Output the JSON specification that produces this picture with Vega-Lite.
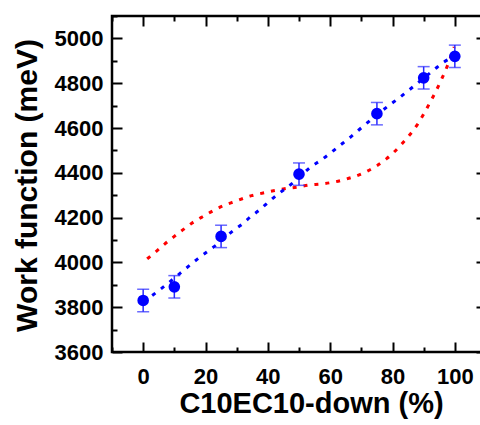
{
  "$schema": "https://vega.github.io/schema/vega-lite/v6.json",
  "autosize": {"type": "none"},
  "padding": {"left": 112, "top": 16, "right": 0, "bottom": 73},
  "width": 374,
  "height": 336,
  "background": "white",
  "config": {
    "view": {"stroke": "black", "strokeWidth": 2.5},
    "font": "Liberation Sans",
    "axis": {
      "grid": false,
      "domain": false,
      "tickColor": "black",
      "labelColor": "black",
      "titleColor": "black",
      "labelFont": "Liberation Sans",
      "titleFont": "Liberation Sans",
      "labelFontWeight": "bold",
      "titleFontWeight": "bold",
      "labelFontSize": 22,
      "titleFontSize": 29
    }
  },
  "datasets": {
    "pts": [
      {"x": 0, "y": 3830, "lo": 3780, "hi": 3880},
      {"x": 10, "y": 3891, "lo": 3841, "hi": 3941},
      {"x": 25, "y": 4116, "lo": 4066, "hi": 4166},
      {"x": 50, "y": 4394, "lo": 4344, "hi": 4444},
      {"x": 75, "y": 4664, "lo": 4614, "hi": 4714},
      {"x": 90, "y": 4824, "lo": 4774, "hi": 4874},
      {"x": 100, "y": 4920, "lo": 4870, "hi": 4970}
    ],
    "red": [
      {"x": 1.3, "y": 4016}, {"x": 4.2, "y": 4049}, {"x": 6.9, "y": 4082}, {"x": 9.8, "y": 4114},
      {"x": 12.7, "y": 4145}, {"x": 15.7, "y": 4176}, {"x": 18.7, "y": 4201}, {"x": 22.1, "y": 4228},
      {"x": 25.7, "y": 4253}, {"x": 29.4, "y": 4272}, {"x": 34.8, "y": 4298}, {"x": 38.5, "y": 4310},
      {"x": 42.2, "y": 4321}, {"x": 46, "y": 4330}, {"x": 49.5, "y": 4336}, {"x": 53.1, "y": 4345},
      {"x": 57.2, "y": 4350}, {"x": 64.4, "y": 4369}, {"x": 71.7, "y": 4406}, {"x": 78.2, "y": 4464},
      {"x": 83.4, "y": 4535}, {"x": 88.1, "y": 4618}, {"x": 92, "y": 4713}, {"x": 95.4, "y": 4807},
      {"x": 98.4, "y": 4906}, {"x": 99.8, "y": 4962}
    ],
    "blue": [
      {"x": 2.9, "y": 3852}, {"x": 6.1, "y": 3886}, {"x": 12, "y": 3953}, {"x": 14.6, "y": 3983},
      {"x": 17.5, "y": 4016}, {"x": 20.3, "y": 4045}, {"x": 23.2, "y": 4075}, {"x": 28.9, "y": 4142},
      {"x": 31.8, "y": 4171}, {"x": 34.4, "y": 4203}, {"x": 37.4, "y": 4235}, {"x": 40.1, "y": 4268},
      {"x": 43, "y": 4302}, {"x": 45.9, "y": 4332}, {"x": 48.6, "y": 4361}, {"x": 53.7, "y": 4425},
      {"x": 57.1, "y": 4457}, {"x": 60.1, "y": 4488}, {"x": 62.9, "y": 4520}, {"x": 65.8, "y": 4551},
      {"x": 68.5, "y": 4583}, {"x": 70.7, "y": 4609}, {"x": 78.6, "y": 4698}, {"x": 82, "y": 4733},
      {"x": 84.9, "y": 4765}, {"x": 93.5, "y": 4862}, {"x": 96.3, "y": 4893}, {"x": 98.6, "y": 4911}
    ]
  },
  "resolve": {"axis": {"x": "independent", "y": "independent"}},
  "layer": [
    {
      "data": {"name": "red"},
      "mark": {"type": "line", "color": "#ff0000", "strokeWidth": 3, "strokeDash": [4, 7], "interpolate": "monotone"},
      "encoding": {
        "x": {"field": "x", "type": "quantitative", "scale": {"domain": [-10, 110], "nice": false, "zero": false},
          "axis": {"orient": "bottom", "values": [0, 20, 40, 60, 80, 100], "format": "d", "tickSize": -10, "tickWidth": 2, "labelPadding": 24,
            "title": "C10EC10-down (%)", "titleFontSize": 29, "titleX": 199, "titleY": 60, "titleBaseline": "alphabetic", "titleAlign": "center", "titleAnchor": null}},
        "y": {"field": "y", "type": "quantitative", "scale": {"domain": [3600, 5100], "nice": false, "zero": false},
          "axis": {"orient": "left", "values": [3600, 3800, 4000, 4200, 4400, 4600, 4800, 5000], "format": "d", "tickSize": -10, "tickWidth": 2, "labelPadding": 19,
            "title": "Work function (meV)", "titleFontSize": 30, "titleX": -76, "titleY": 169, "titleBaseline": "alphabetic", "titleAlign": "center", "titleAngle": -90, "titleAnchor": null}}
      }
    },
    {
      "data": {"name": "blue"},
      "mark": {"type": "line", "color": "#0000ff", "strokeWidth": 3, "strokeDash": [4, 7], "interpolate": "monotone"},
      "encoding": {
        "x": {"field": "x", "type": "quantitative",
          "axis": {"orient": "top", "values": [0, 20, 40, 60, 80, 100], "tickSize": -10, "tickWidth": 2, "labels": false, "title": null}},
        "y": {"field": "y", "type": "quantitative",
          "axis": {"orient": "right", "values": [3600, 3800, 4000, 4200, 4400, 4600, 4800, 5000], "tickSize": -10, "tickWidth": 2, "labels": false, "title": null}}
      }
    },
    {
      "data": {"name": "pts"},
      "mark": {"type": "rule", "color": "#2a2aff", "strokeWidth": 1.5},
      "encoding": {
        "x": {"field": "x", "type": "quantitative",
          "axis": {"orient": "bottom", "values": [-10, 10, 30, 50, 70, 90, 110], "tickSize": -5, "tickWidth": 2, "labels": false, "title": null}},
        "y": {"field": "lo", "type": "quantitative",
          "axis": {"orient": "left", "values": [3700, 3900, 4100, 4300, 4500, 4700, 4900, 5100], "tickSize": -5, "tickWidth": 2, "labels": false, "title": null}},
        "y2": {"field": "hi"}
      }
    },
    {
      "data": {"name": "pts"},
      "mark": {"type": "tick", "orient": "horizontal", "color": "#2a2aff", "size": 12, "thickness": 1.5},
      "encoding": {
        "x": {"field": "x", "type": "quantitative",
          "axis": {"orient": "top", "values": [-10, 10, 30, 50, 70, 90, 110], "tickSize": -5, "tickWidth": 2, "labels": false, "title": null}},
        "y": {"field": "hi", "type": "quantitative",
          "axis": {"orient": "right", "values": [3700, 3900, 4100, 4300, 4500, 4700, 4900, 5100], "tickSize": -5, "tickWidth": 2, "labels": false, "title": null}}
      }
    },
    {
      "data": {"name": "pts"},
      "mark": {"type": "tick", "orient": "horizontal", "color": "#2a2aff", "size": 12, "thickness": 1.5},
      "encoding": {
        "x": {"field": "x", "type": "quantitative", "axis": null},
        "y": {"field": "lo", "type": "quantitative", "axis": null}
      }
    },
    {
      "data": {"name": "pts"},
      "mark": {"type": "circle", "color": "#0000ff", "size": 135, "opacity": 1},
      "encoding": {
        "x": {"field": "x", "type": "quantitative", "axis": null},
        "y": {"field": "y", "type": "quantitative", "axis": null}
      }
    }
  ]
}
